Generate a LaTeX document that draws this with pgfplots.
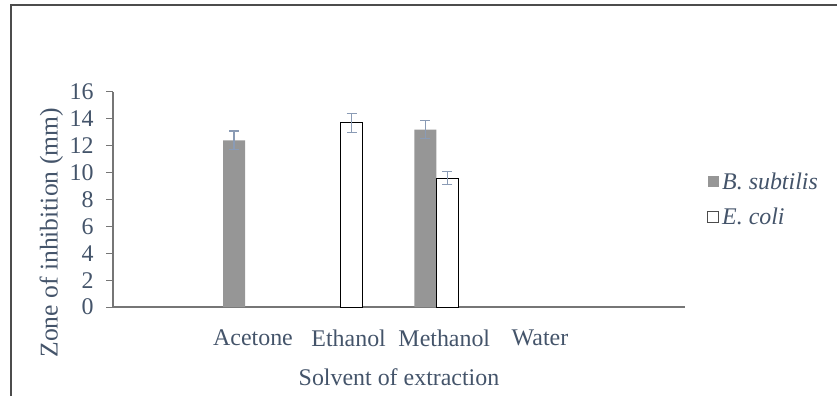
\documentclass[border=0pt]{standalone}
\usepackage{pgfplots}
\pgfplotsset{compat=1.18}
\usepackage{fontspec}
\setmainfont{Liberation Serif}
\definecolor{txt}{HTML}{44546A}
\definecolor{axgray}{HTML}{767676}
\definecolor{bargray}{HTML}{969696}
\definecolor{errc}{HTML}{8A9BB5}
\begin{document}
\begin{tikzpicture}[x=1bp,y=1bp]
\useasboundingbox (0,0) rectangle (837,396);
\draw[line width=1.3bp, black!70] (11,0) -- (11,391) -- (837,391);
\begin{axis}[
  at={(113bp,89bp)}, anchor=south west,
  scale only axis, width=572bp, height=215bp,
  xmin=-0.38, xmax=5.6, ymin=0, ymax=16,
  axis x line*=bottom, axis y line*=left,
  axis line style={axgray, line width=1.3bp, -},
  ytick={0,2,...,16}, tick align=outside, major tick length=7bp,
  ytick style={axgray, line width=1bp},
  xtick={1,2,3,4}, xticklabels={Acetone,Ethanol,Methanol,Water},
  xtick style={draw=none},
  /pgf/number format/assume math mode=true,
  yticklabel style={font=\fontsize{24}{28}\selectfont, text=txt, xshift=-9bp},
  xticklabel style={font=\fontsize{24}{28}\selectfont, text=txt, xshift=8bp, yshift=-12bp},
  xlabel={Solvent of extraction},
  ylabel={Zone of inhibition (mm)},
  xlabel style={font=\fontsize{24}{28}\selectfont, text=txt, at={(axis description cs:0.5,-0.326)}, anchor=center},
  ylabel style={font=\fontsize{25.7}{30}\selectfont, text=txt, at={(axis description cs:-0.108,0.345)}, anchor=center},
  legend style={at={(axis description cs:1.0385,0.5)}, anchor=west, draw=none, fill=none,
    font=\fontsize{24}{28}\selectfont, text=txt, inner sep=0pt, row sep=13bp,
    nodes={inner xsep=3bp}},
  legend cell align=left,
  error bars/y dir=both, error bars/y explicit,
  error bars/error bar style={errc, line width=1.2bp},
  error bars/error mark options={errc, line width=1.2bp, mark size=5bp, rotate=90},
]
\addplot[ybar, bar width=0.23, bar shift=0pt, fill=bargray, draw=none,
  legend image code/.code={\fill[bargray] (0bp,-5.5bp) rectangle (11bp,5.5bp);}]
  coordinates {(0.885,12.4) +- (0,0.7) (2.885,13.2) +- (0,0.65)};
\addlegendentry{\textit{B. subtilis}}
\addplot[ybar, bar width=0.23, bar shift=0pt, fill=white, draw=black, line width=1bp,
  legend image code/.code={\draw[black!70, fill=white, line width=1bp] (0bp,-5.5bp) rectangle (11bp,5.5bp);}]
  coordinates {(2.115,13.7) +- (0,0.7) (3.115,9.6) +- (0,0.5)};
\addlegendentry{\textit{E. coli}}
\end{axis}
\end{tikzpicture}
\end{document}
